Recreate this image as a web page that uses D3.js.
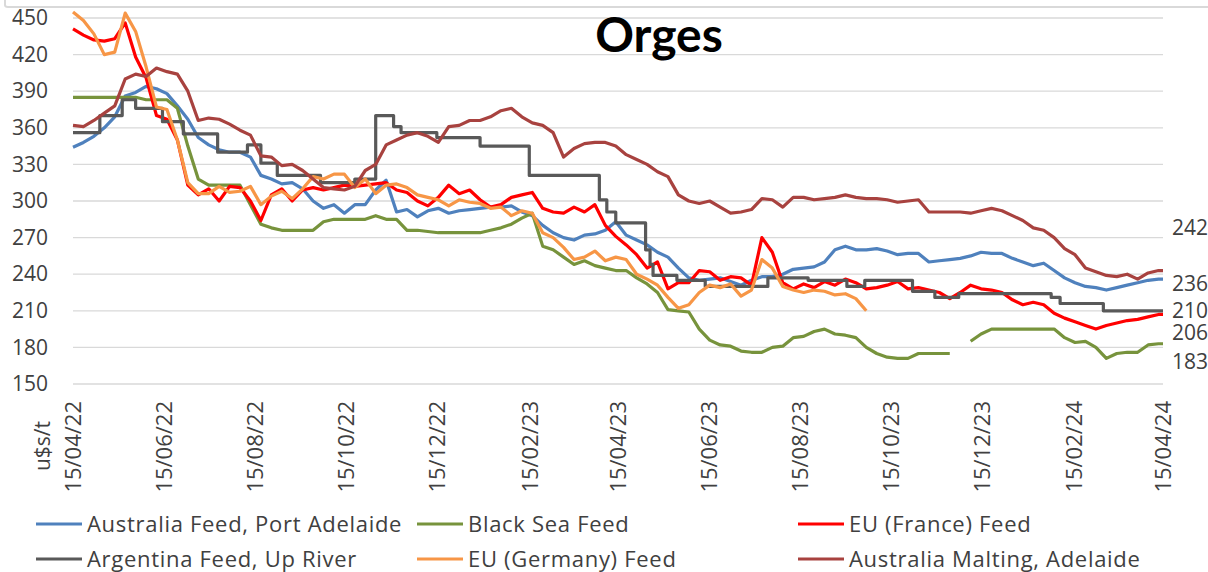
<!DOCTYPE html>
<html>
<head>
<meta charset="utf-8">
<script src="https://cdn.jsdelivr.net/npm/d3@7"></script>
<style>
  body { margin: 0; background: #fff; }
  text { font-family: "Open Sans", sans-serif; fill: #404040; }
</style>
</head>
<body>
<div id="chart"></div>
<script>
// weekly readings from 15/04/22, last value = 15/04/24
var ausFeed = [344,348,353,360,369,386,389,394,392,388,
  378,367,352,346,342,340,340,336,321,318,
  314,315,310,300,294,297,290,297,297,309,
  317,291,293,287,292,294,290,292,293,294,
  295,295,296,291,288,280,274,270,268,272,
  273,276,283,272,268,264,258,254,245,237,
  235,236,237,234,231,235,238,238,240,244,
  245,246,250,260,263,260,260,261,259,256,
  257,257,250,251,252,253,255,258,257,257,
  253,250,247,249,243,237,233,230,229,227,
  229,231,233,235,236,236];
var blackSea = [385,385,385,385,385,385,385,383,383,383,
  376,345,318,313,313,313,313,297,281,278,
  276,276,276,276,283,285,285,285,285,288,
  285,285,276,276,275,274,274,274,274,274,
  276,278,281,286,290,263,260,254,248,251,
  247,245,243,243,237,232,225,211,210,209,
  195,186,182,181,177,176,176,180,181,188,
  189,193,195,191,190,188,180,175,172,171,
  171,175,175,175,175,null,185,191,195,195,
  195,195,195,195,195,188,184,185,180,171,
  175,176,176,182,183,183];
var euFrance = [441,436,432,431,433,446,418,401,370,367,
  350,313,305,310,300,312,311,300,284,305,
  310,300,309,311,309,311,313,312,313,314,
  315,309,307,300,296,303,313,306,309,301,
  295,297,303,305,307,294,291,290,295,291,
  297,280,271,264,256,245,250,228,233,233,
  243,242,235,238,237,231,270,258,233,228,
  232,229,234,231,236,233,228,229,231,234,
  228,229,227,225,220,225,231,228,227,225,
  219,215,217,215,208,204,201,198,195,198,
  200,202,203,205,207,207];
var euGermany = [455,448,437,420,422,454,439,410,377,375,
  350,315,306,306,312,307,308,312,297,304,
  308,302,310,320,318,322,322,311,318,306,
  313,314,311,305,303,301,296,301,299,298,
  294,295,288,292,290,274,270,262,252,254,
  259,251,254,252,240,236,231,221,212,215,
  225,231,229,232,222,227,252,245,230,227,
  225,227,226,223,224,220,210];
var ausMalting = [362,361,366,372,378,400,404,402,409,406,
  404,390,366,368,367,363,358,354,337,336,
  329,330,325,318,311,310,309,312,325,330,
  346,350,354,356,353,348,361,362,366,366,
  369,374,376,369,364,362,356,336,343,347,
  348,348,345,338,334,330,324,320,305,300,
  298,300,295,290,291,293,302,301,295,303,
  303,301,302,303,305,303,302,302,301,299,
  300,301,291,291,291,291,290,292,294,292,
  288,284,278,276,270,261,256,245,242,239,
  238,240,236,241,243,243];
// Argentina is quoted in steps: [date, price from that date]
var argentina = [["2022-04-15",356],["2022-05-03",370],["2022-05-18",383],["2022-05-27",376],
  ["2022-06-14",365],["2022-06-28",355],["2022-07-21",340],["2022-08-10",346],["2022-08-19",331],
  ["2022-08-30",321],["2022-09-28",315],["2022-10-21",318],["2022-11-04",370],["2022-11-16",361],
  ["2022-11-21",356],["2022-12-15",352],["2023-01-13",345],["2023-02-15",321],["2023-04-03",301],
  ["2023-04-08",291],["2023-04-14",282],["2023-05-04",260],["2023-05-07",248],["2023-05-09",239],
  ["2023-05-25",235],["2023-06-13",230],["2023-07-25",237],["2023-08-21",235],["2023-09-16",230],
  ["2023-09-28",235],["2023-10-30",226],["2023-11-14",221],["2023-11-30",224],["2024-01-31",221],
  ["2024-02-06",216],["2024-03-06",210],["2024-04-15",210]];

var seriesNames = ["Australia Feed, Port Adelaide", "Black Sea Feed", "EU (France) Feed",
  "Argentina Feed, Up River", "EU (Germany) Feed", "Australia Malting, Adelaide"];
var seriesColors = ["#4f81bd", "#77933c", "#ff0000", "#595959", "#f79646", "#a8423f"];
var yTicks = [150, 180, 210, 240, 270, 300, 330, 360, 390, 420, 450];
var xTicks = ["2022-04-15","2022-06-15","2022-08-15","2022-10-15","2022-12-15","2023-02-15",
  "2023-04-15","2023-06-15","2023-08-15","2023-10-15","2023-12-15","2024-02-15","2024-04-15"];
var endLabels = [242, 236, 210, 206, 183];
var endNudge = [-44, 4, 0, 17, 18];

var W = 1208, H = 572;
var parse = d3.timeParse("%Y-%m-%d");
var fmt = d3.timeFormat("%d/%m/%y");
var start = parse("2022-04-15"), end = parse("2024-04-15");
var weeks = d3.range(105).map(function(i) { return d3.timeDay.offset(start, 7 * i); }).concat([end]);

var x = d3.scaleTime().domain([start, end]).range([73, 1163]);
var y = d3.scaleLinear().domain([150, 450]).range([384, 18]);

var svg = d3.select("#chart").append("svg")
  .attr("width", W).attr("height", H);

// frame edge at top
svg.append("path")
  .attr("d", "M5,0 V5 Q5,7 8,7 H" + W)
  .attr("fill", "none").attr("stroke", "#d9d9d9").attr("stroke-width", 2);

// grid
svg.append("g").selectAll("line").data(yTicks).enter().append("line")
  .attr("x1", 73).attr("x2", 1163)
  .attr("y1", function(d) { return y(d); }).attr("y2", function(d) { return y(d); })
  .attr("stroke", "#d9d9d9").attr("stroke-width", 1.3);

var yAxis = svg.append("g")
  .attr("transform", "translate(58,0)")
  .call(d3.axisLeft(y).tickValues(yTicks).tickSize(0).tickPadding(10));
yAxis.select(".domain").remove();
yAxis.selectAll("text").style("font-size", "21px").attr("fill", "#404040")
  .style("font-family", "'Open Sans', sans-serif");

var xAxis = svg.append("g")
  .attr("transform", "translate(0,401)")
  .call(d3.axisBottom(x).tickValues(xTicks.map(parse)).tickFormat(fmt).tickSize(0));
xAxis.select(".domain").remove();
xAxis.selectAll("text")
  .style("font-size", "22px").attr("fill", "#404040")
  .style("font-family", "'Open Sans', sans-serif")
  .attr("text-anchor", "end")
  .attr("transform", "rotate(-90)")
  .attr("x", 0).attr("y", 0).attr("dy", "0.36em").attr("dx", "0");

svg.append("text")
  .attr("transform", "translate(42,446) rotate(-90)")
  .attr("text-anchor", "middle").attr("dy", "0.36em")
  .style("font-size", "21px")
  .text("u$s/t");

// lines
var weekly = [ausFeed, blackSea, euFrance, null, euGermany, ausMalting];
var line = d3.line()
  .defined(function(d) { return d[1] != null; })
  .x(function(d) { return x(d[0]); })
  .y(function(d) { return y(d[1]); });
var stepLine = d3.line()
  .curve(d3.curveStepAfter)
  .x(function(d) { return x(parse(d[0])); })
  .y(function(d) { return y(d[1]); });

weekly.forEach(function(vals, i) {
  var p = svg.append("path")
    .attr("fill", "none")
    .attr("stroke", seriesColors[i])
    .attr("stroke-width", 3.2)
    .attr("stroke-linejoin", "round");
  if (vals) {
    p.datum(weeks.map(function(d, j) { return [d, vals[j] == null ? null : vals[j]]; }))
      .attr("d", line);
  } else {
    p.datum(argentina).attr("d", stepLine);
  }
});

// end values
svg.append("g").selectAll("text").data(endLabels).enter().append("text")
  .attr("x", 1172)
  .attr("y", function(d, i) { return y(d) + endNudge[i]; })
  .attr("dy", "0.36em")
  .style("font-size", "21px")
  .text(function(d) { return d; });

// title
svg.append("text")
  .attr("x", 659).attr("y", 52)
  .attr("text-anchor", "middle")
  .style("font-family", "Lato, sans-serif")
  .style("font-weight", "bold")
  .style("font-size", "48px")
  .style("fill", "#000")
  .text("Orges");

// legend
var leg = svg.append("g").selectAll("g").data(seriesNames).enter().append("g")
  .attr("transform", function(d, i) {
    return "translate(" + (36 + (i % 3) * 381) + "," + (524 + Math.floor(i / 3) * 35) + ")";
  });
leg.append("line")
  .attr("x1", 0).attr("x2", 46)
  .attr("stroke", function(d, i) { return seriesColors[i]; })
  .attr("stroke-width", 3.2);
leg.append("text")
  .attr("x", 51).attr("dy", "0.36em")
  .style("font-size", "22px")
  .style("letter-spacing", "0.7px")
  .text(function(d) { return d; });
</script>
</body>
</html>
